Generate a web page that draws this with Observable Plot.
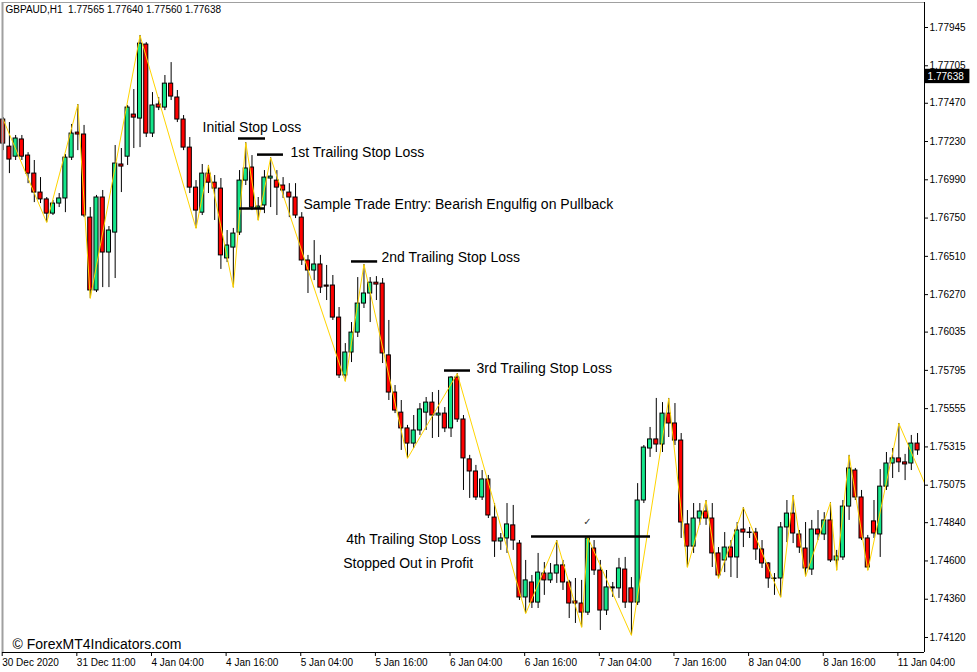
<!DOCTYPE html>
<html><head><meta charset="utf-8">
<script src="https://cdn.jsdelivr.net/npm/d3@7"></script>
<script src="https://cdn.jsdelivr.net/npm/@observablehq/plot@0.6"></script>
<style>html,body{margin:0;padding:0;background:#fff;} svg{display:block}</style>
</head><body><div id="chart"></div>
<script>
// ---- data (GBPAUD H1) ----
const open = [1.77368,1.77198,1.77135,1.77243,1.77142,1.77029,1.76910,1.76867,1.76778,1.76841,
1.76873,1.77129,1.77286,1.77274,1.76753,1.76296,1.76879,1.76534,1.76659,1.77086,
1.77135,1.77399,1.77374,1.77838,1.77280,1.77462,1.77443,1.77593,1.77506,1.77368,
1.77192,1.76941,1.76784,1.77029,1.76972,1.76935,1.76497,1.76565,1.76659,1.76985,
1.77067,1.76810,1.76829,1.76998,1.76985,1.76954,1.76910,1.76879,1.76753,1.76484,
1.76421,1.76459,1.76327,1.76327,1.76126,1.75763,1.75907,1.76032,1.76214,1.76277,
1.76345,1.76339,1.75889,1.75656,1.75530,1.75431,1.75336,1.75418,1.75530,1.75593,
1.75512,1.75524,1.75431,1.75750,1.75487,1.75237,1.75161,1.74998,1.75111,1.74872,
1.74722,1.74741,1.74823,1.74709,1.74371,1.74465,1.74339,1.74521,1.74478,1.74521,
1.74572,1.74465,1.74346,1.74333,1.74276,1.74678,1.74540,1.74289,1.74434,1.74428,
1.74546,1.74428,1.74339,1.74979,1.75305,1.75362,1.75330,1.75524,1.75462,1.75355,
1.74829,1.74690,1.74866,1.74910,1.74866,1.74647,1.74603,1.74684,1.74622,1.74797,
1.74778,1.74778,1.74672,1.74584,1.74490,1.74490,1.74810,1.74897,1.74766,1.74678,
1.74546,1.74797,1.74766,1.74854,1.74603,1.74622,1.74941,1.75167,1.74998,1.74741,
1.74848,1.74766,1.75066,1.75211,1.75243,1.75218,1.75211,1.75336];
const high = [1.77380,1.77349,1.77268,1.77268,1.77160,1.77111,1.77004,1.76879,1.76860,1.76904,
1.77148,1.77337,1.77462,1.77331,1.76816,1.76892,1.76923,1.76697,1.77205,1.77186,
1.77456,1.77556,1.77895,1.77850,1.77537,1.77506,1.77644,1.77725,1.77550,1.77393,
1.77255,1.76985,1.77086,1.77080,1.77017,1.76998,1.76672,1.76685,1.77048,1.77223,
1.77142,1.76879,1.77048,1.77129,1.77048,1.77004,1.76966,1.76966,1.76784,1.76516,
1.76609,1.76516,1.76453,1.76390,1.76189,1.75963,1.76095,1.76377,1.76459,1.76377,
1.76383,1.76371,1.76108,1.75700,1.75606,1.75450,1.75512,1.75587,1.75625,1.75656,
1.75669,1.75562,1.75756,1.75775,1.75512,1.75262,1.75199,1.75167,1.75136,1.74960,
1.74772,1.74960,1.74948,1.74728,1.74603,1.74509,1.74647,1.74590,1.74584,1.74728,
1.74603,1.74478,1.74490,1.74478,1.74747,1.74728,1.74603,1.74540,1.74465,1.74616,
1.74622,1.74496,1.75085,1.75324,1.75437,1.75619,1.75593,1.75619,1.75587,1.75399,
1.74916,1.74960,1.74960,1.74979,1.74960,1.74684,1.74778,1.74728,1.74841,1.74935,
1.74810,1.74804,1.74728,1.74590,1.74521,1.74841,1.74979,1.75010,1.74791,1.74841,
1.74854,1.74916,1.74903,1.74966,1.74666,1.74979,1.75262,1.75180,1.75042,1.74760,
1.74979,1.75173,1.75280,1.75305,1.75462,1.75268,1.75387,1.75399];
const low = [1.77173,1.77029,1.77111,1.77111,1.76966,1.76847,1.76841,1.76722,1.76766,1.76816,
1.76784,1.77111,1.77173,1.76753,1.76246,1.76283,1.76314,1.76314,1.76371,1.76910,
1.77080,1.77186,1.77192,1.77255,1.77255,1.77424,1.77424,1.77487,1.77349,1.77173,
1.76904,1.76685,1.76766,1.76904,1.76735,1.76428,1.76471,1.76314,1.76641,1.76954,
1.76797,1.76735,1.76778,1.76816,1.76766,1.76873,1.76753,1.76747,1.76453,1.76277,
1.76358,1.76277,1.76233,1.76108,1.75744,1.75725,1.75844,1.76001,1.76183,1.76095,
1.76233,1.75838,1.75606,1.75524,1.75293,1.75243,1.75305,1.75387,1.75418,1.75368,
1.75374,1.75405,1.75374,1.75468,1.75042,1.74992,1.74979,1.74979,1.74866,1.74622,
1.74666,1.74647,1.74666,1.74352,1.74270,1.74302,1.74302,1.74384,1.74459,1.74459,
1.74415,1.74239,1.74208,1.74183,1.74258,1.74509,1.74164,1.74258,1.74371,1.74365,
1.74302,1.74133,1.74321,1.74960,1.75249,1.75280,1.75280,1.75374,1.75324,1.74741,
1.74559,1.74647,1.74823,1.74823,1.74559,1.74490,1.74527,1.74496,1.74490,1.74684,
1.74741,1.74603,1.74553,1.74428,1.74384,1.74371,1.74715,1.74709,1.74647,1.74502,
1.74509,1.74728,1.74728,1.74590,1.74540,1.74603,1.74854,1.74979,1.74728,1.74540,
1.74741,1.74622,1.75042,1.75117,1.75154,1.75104,1.75167,1.75262];
const close = [1.77217,1.77117,1.77249,1.77135,1.77029,1.76910,1.76867,1.76778,1.76841,1.76873,
1.77129,1.77280,1.77274,1.76766,1.76296,1.76879,1.76534,1.76672,1.77092,1.77073,
1.77443,1.77380,1.77844,1.77280,1.77456,1.77443,1.77593,1.77512,1.77368,1.77192,
1.76941,1.76797,1.77029,1.76972,1.76935,1.76516,1.76578,1.76653,1.76985,1.77061,
1.76816,1.76822,1.77004,1.77010,1.76941,1.76923,1.76879,1.76766,1.76484,1.76421,
1.76459,1.76314,1.76320,1.76126,1.75763,1.75907,1.76032,1.76214,1.76277,1.76345,
1.76333,1.75901,1.75656,1.75543,1.75431,1.75336,1.75418,1.75550,1.75593,1.75512,
1.75524,1.75431,1.75750,1.75487,1.75243,1.75161,1.74998,1.75111,1.74885,1.74722,
1.74741,1.74829,1.74728,1.74371,1.74478,1.74339,1.74527,1.74478,1.74521,1.74572,
1.74465,1.74333,1.74333,1.74276,1.74741,1.74540,1.74289,1.74434,1.74428,1.74553,
1.74339,1.74339,1.74979,1.75311,1.75362,1.75330,1.75524,1.75462,1.75355,1.74841,
1.74690,1.74866,1.74910,1.74866,1.74647,1.74509,1.74684,1.74622,1.74791,1.74778,
1.74775,1.74672,1.74584,1.74490,1.74487,1.74810,1.74897,1.74772,1.74684,1.74553,
1.74797,1.74766,1.74854,1.74603,1.74628,1.74941,1.75180,1.74998,1.74741,1.74559,
1.74772,1.75066,1.75211,1.75243,1.75218,1.75205,1.75336,1.75293];

// ZigZag swing points (bar index, price)
const zzIndex = [0,7,12,14,22,31,33,37,39,41,43,55,58,65,73,84,89,93,94,101,107,110,113,115,119,125,127,129,133,134,136,139,144,148.5];
const zzPrice = [1.77368,1.76722,1.77462,1.76246,1.77895,1.76685,1.77080,1.76314,1.77223,1.76735,1.77129,1.75725,1.76459,1.75243,1.75775,1.74270,1.74728,1.74183,1.74747,1.74133,1.75619,1.74559,1.74979,1.74490,1.74935,1.74371,1.75010,1.74502,1.74966,1.74540,1.75262,1.74540,1.75462,1.75055];

// stop-loss / entry levels
const levelPrice = [1.77249,1.77148,1.76810,1.76478,1.75794,1.74753];
const levelFrom  = [37.83,40.88,37.99,56.0,70.95,84.94];
const levelTo    = [42.17,45.06,42.01,60.2,75.13,104.07];

// annotations
const noteText  = ["Initial Stop Loss","1st Trailing Stop Loss","Sample Trade Entry: Bearish Engulfig on Pullback","2nd Trailing Stop Loss","3rd Trailing Stop Loss","4th Trailing Stop Loss","Stopped Out in Profit"];
const noteIndex = [32.04,46.19,48.28,60.82,76.09,55.14,54.66];
const notePrice = [1.77318,1.77160,1.76835,1.76503,1.75807,1.74735,1.74584];

// axes
const yTicks = [1.77945,1.77705,1.77470,1.77230,1.76990,1.76750,1.76510,1.76270,1.76035,1.75795,1.75555,1.75315,1.75075,1.74840,1.74600,1.74360,1.74120];
const xTickIndex = [0,12,24,36,48,60,72,84,96,108,120,132,144];
const xTickLabel = ["30 Dec 2020","31 Dec 11:00","4 Jan 04:00","4 Jan 16:00","5 Jan 04:00","5 Jan 16:00","6 Jan 04:00","6 Jan 16:00","7 Jan 04:00","7 Jan 16:00","8 Jan 04:00","8 Jan 16:00","11 Jan 04:00"];
const titleText = "GBPAUD,H1  1.77565 1.77640 1.77560 1.77638";
const lastQuote = [1.77638];
const copyright = "© ForexMT4Indicators.com";

// ---- build ----
const GREEN = "#14e68a", RED = "#ff0000";
const candles = open.map((o, i) => ({i, o, h: high[i], l: low[i], c: close[i]}));
const zigzag = zzIndex.map((i, k) => ({i, p: zzPrice[k]}));
const levels = levelPrice.map((p, k) => ({p, a: levelFrom[k], b: levelTo[k]}));
const notes = noteText.map((t, k) => ({t, i: noteIndex[k], p: notePrice[k]}));
const xLab = new Map(xTickIndex.map((d, k) => [d, xTickLabel[k]]));
const X0 = -0.1125, X1 = 148.12, Y0 = 1.740259, Y1 = 1.781018;

const chart = Plot.plot({
  width: 977, height: 672,
  marginLeft: 2, marginRight: 53, marginTop: 2, marginBottom: 20,
  style: {fontFamily: "'Liberation Sans', Arial, sans-serif", fontSize: "10px", background: "#fff", color: "#000", overflow: "visible"},
  x: {type: "linear", domain: [X0, X1]},
  y: {type: "linear", domain: [Y0, Y1]},
  marks: [
    Plot.ruleX(candles, {x: "i", y1: "l", y2: "h", stroke: "#000", strokeWidth: 1}),
    Plot.rect(candles, {x1: d => d.i - 0.33, x2: d => d.i + 0.33, y1: "o", y2: "c",
      fill: d => d.c >= d.o ? GREEN : RED, stroke: "#000", strokeWidth: 1}),
    Plot.line(zigzag, {x: "i", y: "p", stroke: "#ffd400", strokeWidth: 1, clip: true}),
    Plot.ruleY(levels, {y: "p", x1: "a", x2: "b", stroke: "#000", strokeWidth: 2.5}),
    Plot.text(notes, {x: "i", y: "p", text: "t", textAnchor: "start", fontSize: 14, fill: "#000"}),
    Plot.text(["✓"], {x: [93.94], y: [1.74848], fontSize: 10, fill: "#333", fontFamily: "DejaVu Sans"}),
    // frame
    Plot.ruleX([X0], {stroke: "#a0a0a0", strokeWidth: 2}),
    Plot.ruleY([Y1], {stroke: "#a0a0a0", strokeWidth: 1}),
    Plot.ruleY([Y0], {stroke: "#000"}),
    Plot.ruleX([X1], {stroke: "#000"}),
    // axes
    Plot.axisY(yTicks, {anchor: "right", tickSize: 3, tickPadding: 2, tickFormat: d => d.toFixed(5), fontSize: 10}),
    Plot.axisX(xTickIndex, {anchor: "bottom", tickSize: 4, tickPadding: 2, textAnchor: "start", dx: -1, tickFormat: d => xLab.get(d), fontSize: 10}),
    // current price tag
    Plot.rect(lastQuote, {x1: X1 + 0.05, x2: X1 + 7.3, y1: d => d - 0.00045, y2: d => d + 0.00045, fill: "#000"}),
    Plot.text(lastQuote, {x: X1 + 0.5, y: d => d, text: d => d.toFixed(5), fill: "#fff", textAnchor: "start", fontSize: 10}),
    // title & watermark
    Plot.text([titleText], {frameAnchor: "top-left", dx: 3, dy: 3, fontSize: 10, fill: "#000"}),
    Plot.text([copyright], {frameAnchor: "bottom-left", dx: 10, dy: -4, fontSize: 14, fill: "#000"})
  ]
});
document.getElementById("chart").appendChild(chart);
</script>
</body></html>
